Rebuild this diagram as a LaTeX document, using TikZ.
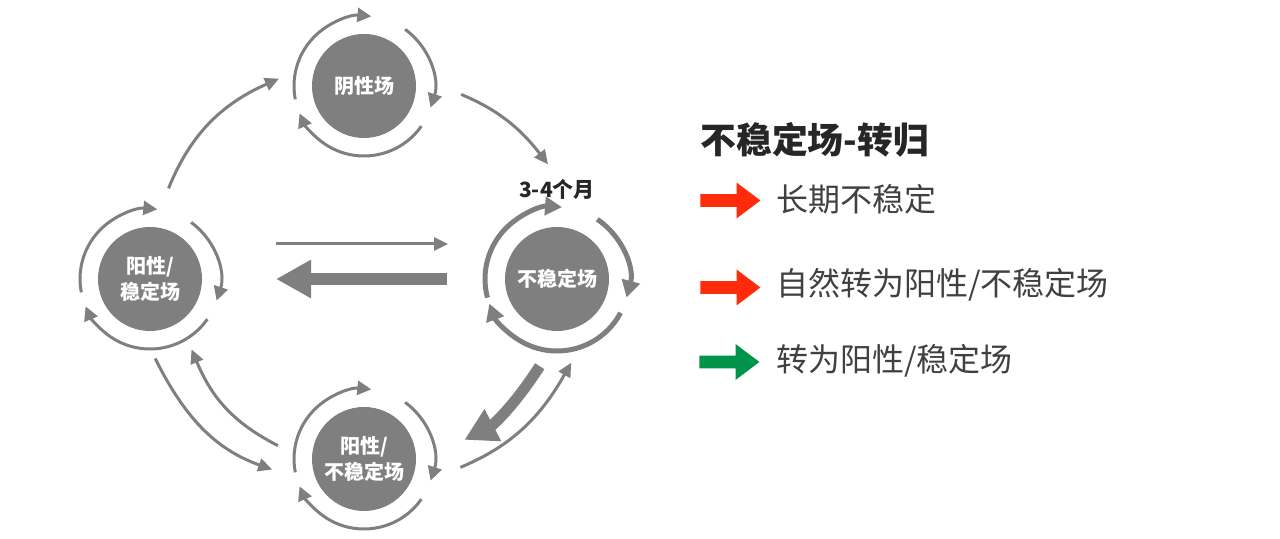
\documentclass[tikz,border=0pt]{standalone}
\usepackage{fontspec}
\setmainfont{Noto Sans CJK SC}
\usetikzlibrary{arrows.meta,shapes.arrows}

\definecolor{discgray}{HTML}{7F7F7F}
\definecolor{legred}{HTML}{FF2B0A}
\definecolor{leggreen}{HTML}{00934A}
\definecolor{inkdark}{HTML}{262626}
\definecolor{inktext}{HTML}{404040}

\begin{document}
\begin{tikzpicture}[
  x=0.5pt,y=0.5pt,
  disc/.style={circle,fill=discgray,text=white,align=center,inner sep=0pt,
    minimum size=52pt,outer sep=18pt,font=\bfseries\fontsize{10}{13}\selectfont},
  ring/.style={draw=discgray,line width=1.5pt,-{Triangle[length=7pt,width=7pt]}},
  conn/.style={draw=discgray,line width=1.5pt,-{Triangle[length=7pt,width=6.5pt]}},
  bigconn/.style={draw=discgray,line width=6pt,-{Triangle[length=17.5pt,width=18pt]}},
  legarrow/.style={single arrow,draw=none,inner sep=3pt,minimum height=30pt,
    single arrow head extend=5.75pt,single arrow tip angle=74,anchor=tail},
  legtext/.style={anchor=west,inner sep=0pt,text=inktext,font=\fontsize{16}{18}\selectfont}
]
  \useasboundingbox (0,0) rectangle (1280,539);

  % the four fields
  \node[disc] (neg) at (364,453) {阴性场};
  \node[disc] (posst) at (150,260) {阳性/\\稳定场};
  \node[disc] (unst) at (557,260) {不稳定场};
  \node[disc] (posun) at (364,80) {阳性/\\不稳定场};
  \node[text=inkdark,font=\bfseries\fontsize{10.5}{12}\selectfont] (months) at (557,349) {3-4个月};

  % circling arrows round each field
  \foreach \n in {neg,posst,posun}
    \foreach \a/\b in {191/84,54/-18,-35/-157}
      \draw[ring] (\n.center) ++(\a:35pt) arc[start angle=\a,end angle=\b,radius=35pt];
  \foreach \a/\b in {195/86,56/-15,-28/-160}
    \draw[ring,line width=2.5pt,-{Triangle[length=8.5pt,width=9pt]}]
      (unst.center) ++(\a:36pt) arc[start angle=\a,end angle=\b,radius=36pt];

  % transitions
  \draw[conn,shorten <=2.3pt,shorten >=-1.5pt] (posst.79) to[bend left=22] (neg.176);
  \draw[conn,shorten <=5pt] (neg.-3.5) to[bend left=15] ([shift={(94.5:57.5pt)}]unst.center);
  \draw[conn,shorten <=19pt,shorten >=10.5pt] ([yshift=17.5pt]posst.east) -- ([yshift=17.5pt]unst.west);
  \draw[bigconn,shorten <=11pt,shorten >=19pt] (unst.west) -- (posst.east);
  \draw[bigconn,line width=5.5pt,-{Triangle[length=16pt,width=17pt]},shorten <=0.5pt,shorten >=7.5pt]
    (unst.259) to[bend left=15] (posun.8.4);
  \draw[conn,shorten <=5pt,shorten >=-2pt] (posun.-8.2) to[bend right=19] (unst.-82.5);
  \draw[conn,shorten <=-4.5pt,shorten >=2.5pt] (posst.-84) to[bend right=22] (posun.188);
  \draw[conn,shorten <=-0.5pt,shorten >=-3.2pt] (posun.171) to[bend left=20] (posst.-60.6);

  % legend
  \node[anchor=west,inner sep=0pt,text=inkdark,font=\bfseries\fontsize{17.9}{20}\selectfont]
    (legtitle) at (700,399) {不稳定场-转归};
  \node[legarrow,fill=legred] (arr1) at (700,338.5) {};
  \node[legtext] (txt1) at (776,340) {长期不稳定};
  \node[legarrow,fill=legred] (arr2) at (700,251.5) {};
  \node[legtext] (txt2) at (776,254) {自然转为阳性/不稳定场};
  \node[legarrow,fill=leggreen] (arr3) at (699,177) {};
  \node[legtext] (txt3) at (776,178) {转为阳性/稳定场};
\end{tikzpicture}
\end{document}
